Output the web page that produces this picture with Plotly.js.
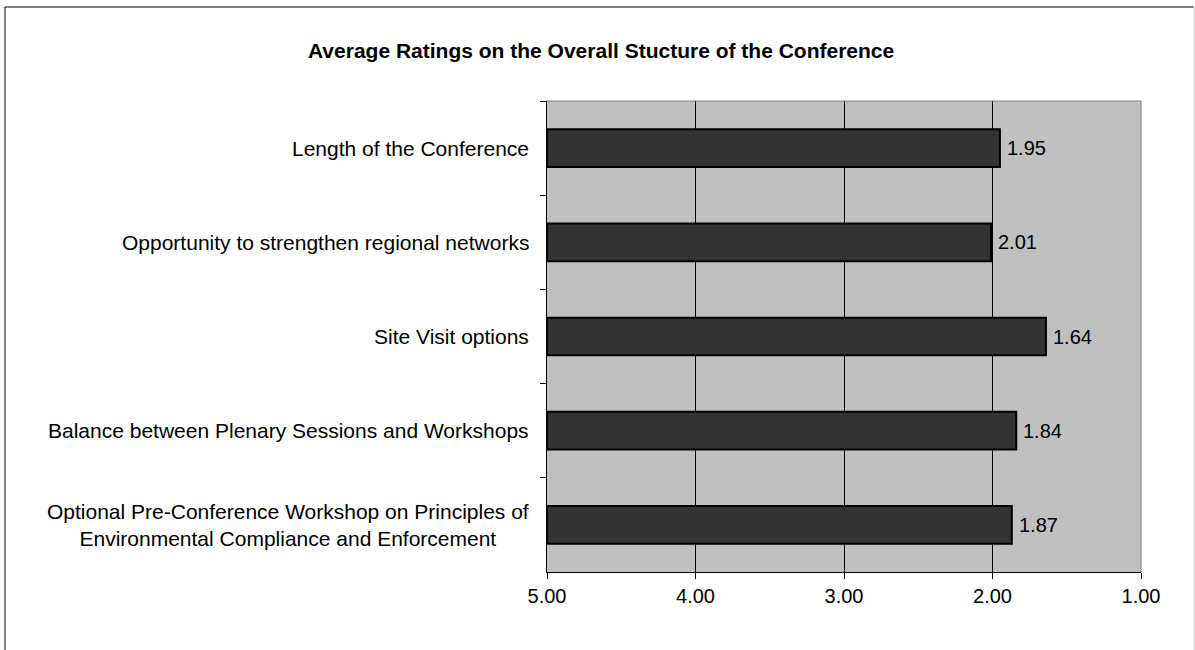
<!DOCTYPE html>
<html>
<head>
<meta charset="utf-8">
<script src="https://cdn.plot.ly/plotly-3.0.1.min.js"></script>
<style>
html,body{margin:0;padding:0;background:#fff;}
#chart{width:1195px;height:650px;}
</style>
</head>
<body>
<div id="chart"></div>
<script>
// Data (top to bottom as shown)
const categories = [
  "Length of the Conference",
  "Opportunity to strengthen regional networks",
  "Site Visit options",
  "Balance between Plenary Sessions and Workshops",
  "Optional Pre-Conference Workshop on Principles of<br>Environmental Compliance and Enforcement"
];
const ratings = [1.95, 2.01, 1.64, 1.84, 1.87];
const tickValues = [5, 4, 3, 2, 1];
const tickLabels = ["5.00", "4.00", "3.00", "2.00", "1.00"];
const scaleStart = 5;
const chartTitle = "Average Ratings on the Overall Stucture of the Conference";

const FONT = "Liberation Sans, Arial, sans-serif";

const trace = {
  type: "bar",
  orientation: "h",
  y: categories,
  base: scaleStart,
  x: ratings.map(v => v - scaleStart),
  width: 0.4,
  marker: {color: "#333333", line: {color: "#000000", width: 2}},
  hoverinfo: "skip"
};

const L = 547, R = 54, T = 101, B = 78;
const W = 1195, H = 650;
const pw = W - L - R, ph = H - T - B;
const px = x => (x - L) / pw;
const py = y => (H - B - y) / ph;

const catAnnotations = categories.map(c => ({
  xref: "paper", x: 0, xanchor: "right", xshift: -16,
  yref: "y", y: c, yanchor: "middle",
  text: c, align: "center", showarrow: false,
  font: {family: FONT, size: 21, color: "#000"}
}));
const valueAnnotations = ratings.map((v, i) => ({
  xref: "x", x: v, xanchor: "left", xshift: 5,
  yref: "y", y: categories[i], yanchor: "middle",
  text: v.toFixed(2), showarrow: false,
  font: {family: FONT, size: 20, color: "#000"}
}));

const layout = {
  width: W, height: H,
  margin: {l: L, r: R, t: T, b: B, pad: 0},
  paper_bgcolor: "#ffffff",
  plot_bgcolor: "#c0c0c0",
  font: {family: FONT, size: 20, color: "#000"},
  showlegend: false,
  title: {
    text: "<b>" + chartTitle + "</b>",
    font: {family: FONT, size: 21, color: "#000"},
    xref: "container", x: 0.503, xanchor: "center",
    yref: "container", y: 1 - 51/650, yanchor: "middle"
  },
  xaxis: {
    range: [5, 1],
    tickvals: tickValues,
    ticktext: tickLabels,
    ticks: "outside", ticklen: 6, tickcolor: "#000", tickwidth: 1,
    showgrid: true, gridcolor: "#000", gridwidth: 1,
    showline: true, linecolor: "#000", linewidth: 1,
    zeroline: false,
    tickfont: {family: FONT, size: 20, color: "#000"},
    fixedrange: true
  },
  yaxis: {
    type: "category",
    autorange: "reversed",
    tickson: "boundaries",
    ticks: "outside", ticklen: 6, tickcolor: "#000", tickwidth: 1,
    showticklabels: false,
    showgrid: false,
    showline: true, linecolor: "#000", linewidth: 1,
    zeroline: false,
    fixedrange: true
  },
  annotations: catAnnotations.concat(valueAnnotations),
  shapes: [
    {type: "line", xref: "paper", yref: "paper", x0: 0, x1: 1, y0: 1, y1: 1, line: {color: "#808080", width: 1}, layer: "above"},
    {type: "line", xref: "paper", yref: "paper", x0: 1, x1: 1, y0: 0, y1: 1, line: {color: "#808080", width: 1}, layer: "above"},
    {type: "line", xref: "paper", yref: "paper", x0: px(5), x1: px(5), y0: py(7), y1: py(660), line: {color: "#000", width: 1}},
    {type: "line", xref: "paper", yref: "paper", x0: px(5), x1: px(1194), y0: py(7), y1: py(7), line: {color: "#000", width: 1}},
    {type: "line", xref: "paper", yref: "paper", x0: px(1194), x1: px(1194), y0: py(7), y1: py(660), line: {color: "#d0d0d0", width: 1}}
  ]
};

Plotly.newPlot("chart", [trace], layout, {displayModeBar: false, staticPlot: true});
</script>
</body>
</html>
